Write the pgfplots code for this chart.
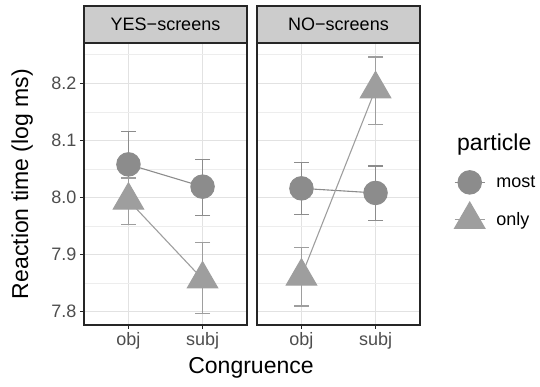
\documentclass[border=0pt]{standalone}
\usepackage{pgfplots}
\pgfplotsset{compat=1.18}
\usepackage{pgfplotstable}
\usepackage{fontspec}
\setmainfont{Liberation Sans}
\definecolor{mostc}{HTML}{8C8C8C}
\definecolor{onlyc}{HTML}{9E9E9E}
\definecolor{gridmaj}{HTML}{E2E2E2}
\definecolor{gridmin}{HTML}{EDEDED}
\definecolor{stripc}{HTML}{CCCCCC}
\definecolor{framec}{HTML}{262626}
\definecolor{ticklab}{HTML}{4D4D4D}

% YES-screens: means
\pgfplotstableread{
x y
1 8.058
2 8.019
}\yesmost
\pgfplotstableread{
x y
1 7.995
2 7.857
}\yesonly
% YES-screens: error bar ends (lower, upper)
\pgfplotstableread{
x y
1 8.001
1 8.115
1 nan
2 7.968
2 8.067
}\yesmostE
\pgfplotstableread{
x y
1 7.953
1 8.034
1 nan
2 7.797
2 7.921
}\yesonlyE
% NO-screens: means
\pgfplotstableread{
x y
1 8.016
2 8.008
}\nomost
\pgfplotstableread{
x y
1 7.862
2 8.190
}\noonly
% NO-screens: error bar ends
\pgfplotstableread{
x y
1 7.970
1 8.061
1 nan
2 7.960
2 8.055
}\nomostE
\pgfplotstableread{
x y
1 7.810
1 7.913
1 nan
2 8.128
2 8.246
}\noonlyE

\pgfplotsset{
 panel/.style={
  scale only axis, width=163pt, height=282pt, anchor=south west,
  xmin=0.4, xmax=2.6, ymin=7.7767, ymax=8.2706,
  unbounded coords=jump,
  xtick={1,2}, xticklabels={obj,subj},
  ytick={7.8,7.9,8.0,8.1,8.2}, minor ytick={7.85,7.95,8.05,8.15,8.25},
  grid=both,
  major grid style={gridmaj, line width=1pt},
  minor grid style={gridmin, line width=0.6pt},
  axis line style={framec, line width=1.3pt},
  tick align=outside, xtick pos=bottom, ytick pos=left,
  major tick length=4pt, minor tick length=0pt,
  major tick style={framec, line width=1pt},
  tick label style={font=\fontsize{18}{20}\selectfont, text=ticklab},
  /pgf/number format/assume math mode=true,
  yticklabel style={/pgf/number format/fixed, /pgf/number format/precision=1, /pgf/number format/fixed zerofill},
  legend image code/.code={%
    \draw[#1,mark=none] (0pt,0pt) -- (30pt,0pt);
    \draw[#1] plot coordinates {(15pt,0pt)};
    \path (39pt,0pt);},
 },
 mostst/.style={color=mostc, line width=1.1pt, mark=*, mark size=11.7pt,
   mark options={draw=none, fill=mostc}},
 onlyst/.style={color=onlyc, line width=1.1pt, mark=triangle*, mark size=17.5pt,
   mark options={draw=none, fill=onlyc}},
 ebar/.style={forget plot, color=#1, line width=1.3pt, mark=-, mark size=7.5pt,
   mark options={line width=1.3pt}},
}

\begin{document}
\begin{tikzpicture}
\useasboundingbox (0,0) rectangle (540pt,387pt);
\begin{axis}[panel, name=L, at={(84pt,62pt)},
  ylabel={Reaction time (log ms)},
  ylabel style={font=\fontsize{23}{26}\selectfont, at={(axis description cs:-0.380,0.5)}, anchor=center}]
\addplot[ebar=mostc] table[x=x, y=y] {\yesmostE};
\addplot[ebar=onlyc] table[x=x, y=y] {\yesonlyE};
\addplot[mostst] table[x=x, y=y] {\yesmost};
\addplot[onlyst] table[x=x, y=y] {\yesonly};
\end{axis}
\begin{axis}[panel, name=R, at={(257pt,62pt)},
  yticklabels={}, ytick style={draw=none},
  legend style={at={(axis description cs:1.19,0.555)}, anchor=north west,
    draw=none, fill=none, row sep=8pt,
    font=\fontsize{18}{20}\selectfont},
  legend cell align=left]
\addplot[ebar=mostc] table[x=x, y=y] {\nomostE};
\addplot[ebar=onlyc] table[x=x, y=y] {\noonlyE};
\addplot[mostst] table[x=x, y=y] {\nomost};
\addlegendentry{most}
\addplot[onlyst] table[x=x, y=y] {\noonly};
\addlegendentry{only}
\end{axis}
% strips
\draw[framec, line width=1.3pt, fill=stripc] (L.north west) rectangle ([yshift=37pt]L.north east);
\node[font=\fontsize{18}{20}\selectfont] at ([yshift=18.5pt]L.north) {YES−screens};
\draw[framec, line width=1.3pt, fill=stripc] (R.north west) rectangle ([yshift=37pt]R.north east);
\node[font=\fontsize{18}{20}\selectfont] at ([yshift=18.5pt]R.north) {NO−screens};
% x title
\node[font=\fontsize{23}{26}\selectfont] at (251pt,19pt) {Congruence};
% legend title
\node[font=\fontsize{23}{26}\selectfont, anchor=base west, inner sep=0pt] at (457pt,236pt) {particle};
\end{tikzpicture}
\end{document}
